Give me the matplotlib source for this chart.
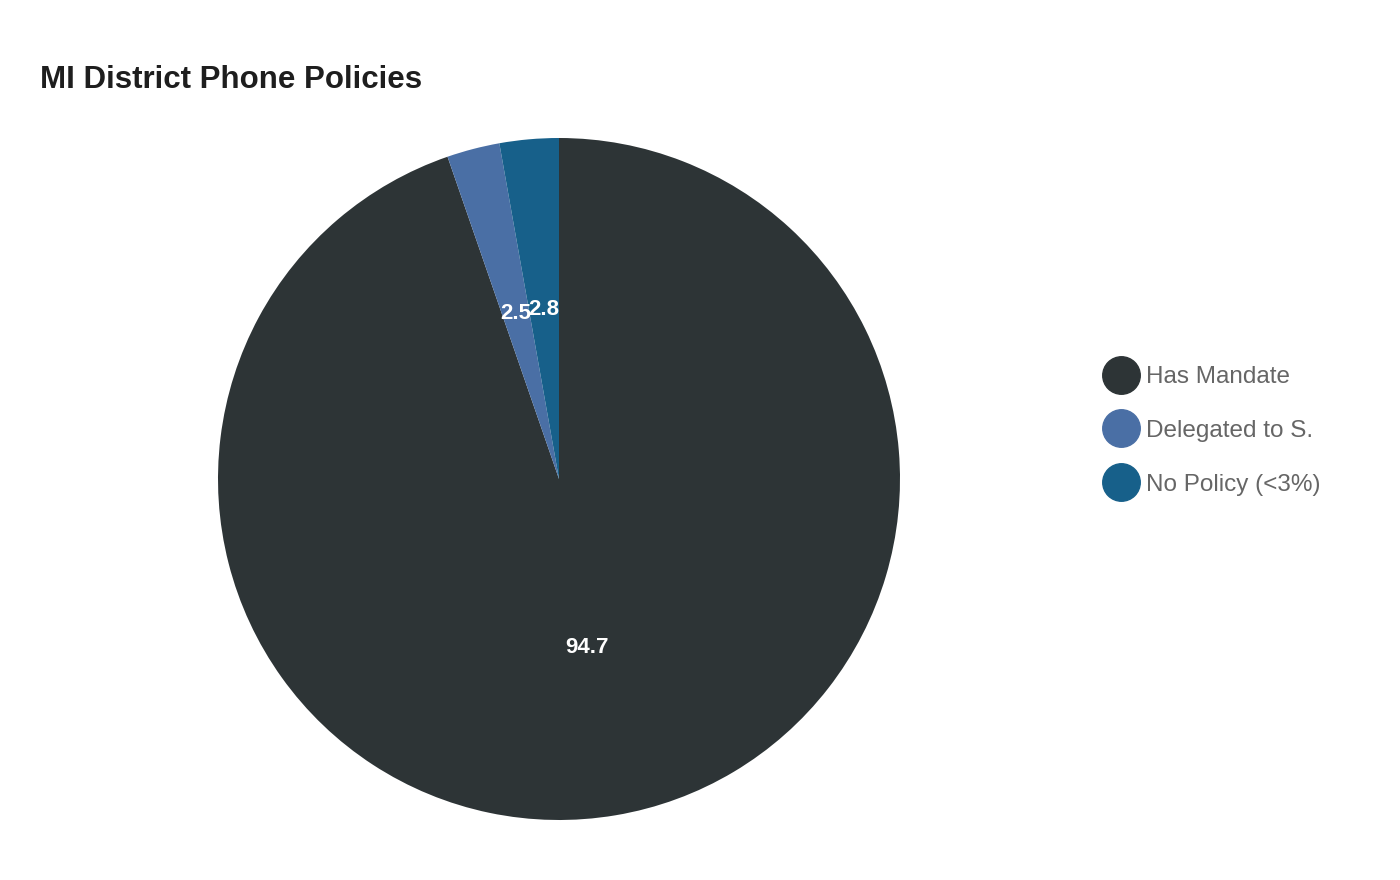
import matplotlib
matplotlib.use('Agg')
import matplotlib.pyplot as plt
from matplotlib.lines import Line2D

plt.rcParams['font.family'] = ['Liberation Sans', 'DejaVu Sans']

# data
labels = ['Has Mandate', 'Delegated to S.', 'No Policy (<3%)']
values = [94.7, 2.5, 2.8]
colors = ['#2d3436', '#4a6fa5', '#17608a']

fig = plt.figure(figsize=(14, 8.8), dpi=100)
ax = fig.add_axes([218 / 1400, 60 / 880, 682 / 1400, 682 / 880])

wedges, texts, autotexts = ax.pie(values, colors=colors, startangle=90, counterclock=False,
                                  autopct=lambda p: f'{p:.1f}', pctdistance=0.5,
                                  wedgeprops=dict(linewidth=0))
for t in autotexts:
    t.set_color('white')
    t.set_fontsize(16)
    t.set_fontweight('bold')
ax.set_xlim(-1, 1)
ax.set_ylim(-1, 1)
ax.set_aspect('equal')

fig.text(40 / 1400, 1 - 80 / 880, 'MI District Phone Policies', fontsize=22.5,
         fontweight='bold', color='#1e1e1e', va='center', ha='left')

handles = [Line2D([], [], marker='o', linestyle='', markersize=27, color=c) for c in colors]
leg = fig.legend(handles, labels, loc='center left', bbox_to_anchor=(1085 / 1400, 1 - 431 / 880),
                 frameon=False, fontsize=17.5, labelspacing=1.31, handletextpad=0.0,
                 handlelength=2.0, borderpad=0)
for t in leg.get_texts():
    t.set_color('#666666')

fig.savefig('out.png', dpi=100)
